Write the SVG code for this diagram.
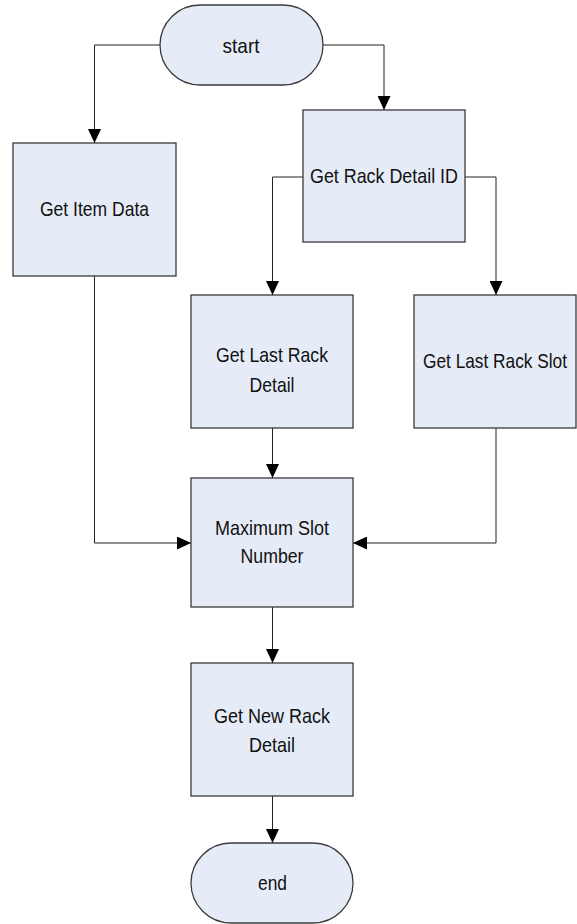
<svg xmlns="http://www.w3.org/2000/svg" width="577" height="924" viewBox="0 0 577 924">
  <style>
    .box { fill: #e6ecf7; stroke: #3a3a3a; stroke-width: 1.3; }
    .lbl { font-family: "Liberation Sans", Arial, sans-serif; font-size: 21px; fill: #111; text-anchor: middle; }
    .wire { fill: none; stroke: #222; stroke-width: 1; marker-end: url(#arrow); }
  </style>
  <defs>
    <marker id="arrow" viewBox="0 0 14 13" refX="14" refY="6.5" markerWidth="14" markerHeight="13" markerUnits="userSpaceOnUse" orient="auto">
      <path d="M0,0 L14,6.5 L0,13 Z" fill="#000"/>
    </marker>
  </defs>
  <rect width="577" height="924" fill="#fff"/>

  <g id="connectors">
    <path class="wire" d="M160,45 H94.5 V143"/>
    <path class="wire" d="M323,45 H384 V110"/>
    <path class="wire" d="M303,177 H272.5 V295"/>
    <path class="wire" d="M465,177 H496 V295"/>
    <path class="wire" d="M272.5,428 V478"/>
    <path class="wire" d="M94.5,276 V543 H191"/>
    <path class="wire" d="M496,428 V543 H353"/>
    <path class="wire" d="M272.5,607 V663"/>
    <path class="wire" d="M272.5,796 V843"/>
  </g>

  <g id="start">
    <rect class="box" x="160" y="5" width="163" height="80" rx="40" ry="40"/>
    <text class="lbl" x="241" y="53" textLength="37" lengthAdjust="spacingAndGlyphs">start</text>
  </g>

  <g id="get-item-data">
    <rect class="box" x="13" y="143" width="163" height="133"/>
    <text class="lbl" x="94.5" y="216" textLength="109" lengthAdjust="spacingAndGlyphs">Get Item Data</text>
  </g>

  <g id="get-rack-detail-id">
    <rect class="box" x="303" y="110" width="162" height="132"/>
    <text class="lbl" x="384" y="183" textLength="148" lengthAdjust="spacingAndGlyphs">Get Rack Detail ID</text>
  </g>

  <g id="get-last-rack-detail">
    <rect class="box" x="191" y="295" width="162" height="133"/>
    <text class="lbl" x="272" y="362" textLength="112" lengthAdjust="spacingAndGlyphs">Get Last Rack</text>
    <text class="lbl" x="272" y="392" textLength="45" lengthAdjust="spacingAndGlyphs">Detail</text>
  </g>

  <g id="get-last-rack-slot">
    <rect class="box" x="414" y="295" width="162" height="133"/>
    <text class="lbl" x="495" y="368" textLength="144" lengthAdjust="spacingAndGlyphs">Get Last Rack Slot</text>
  </g>

  <g id="maximum-slot-number">
    <rect class="box" x="191" y="478" width="162" height="129"/>
    <text class="lbl" x="272" y="535" textLength="114" lengthAdjust="spacingAndGlyphs">Maximum Slot</text>
    <text class="lbl" x="272" y="563" textLength="63" lengthAdjust="spacingAndGlyphs">Number</text>
  </g>

  <g id="get-new-rack-detail">
    <rect class="box" x="191" y="663" width="162" height="133"/>
    <text class="lbl" x="272" y="723" textLength="116" lengthAdjust="spacingAndGlyphs">Get New Rack</text>
    <text class="lbl" x="272" y="752" textLength="46" lengthAdjust="spacingAndGlyphs">Detail</text>
  </g>

  <g id="end">
    <rect class="box" x="191" y="843" width="162" height="80" rx="40" ry="40"/>
    <text class="lbl" x="272.5" y="890" textLength="29" lengthAdjust="spacingAndGlyphs">end</text>
  </g>
</svg>
